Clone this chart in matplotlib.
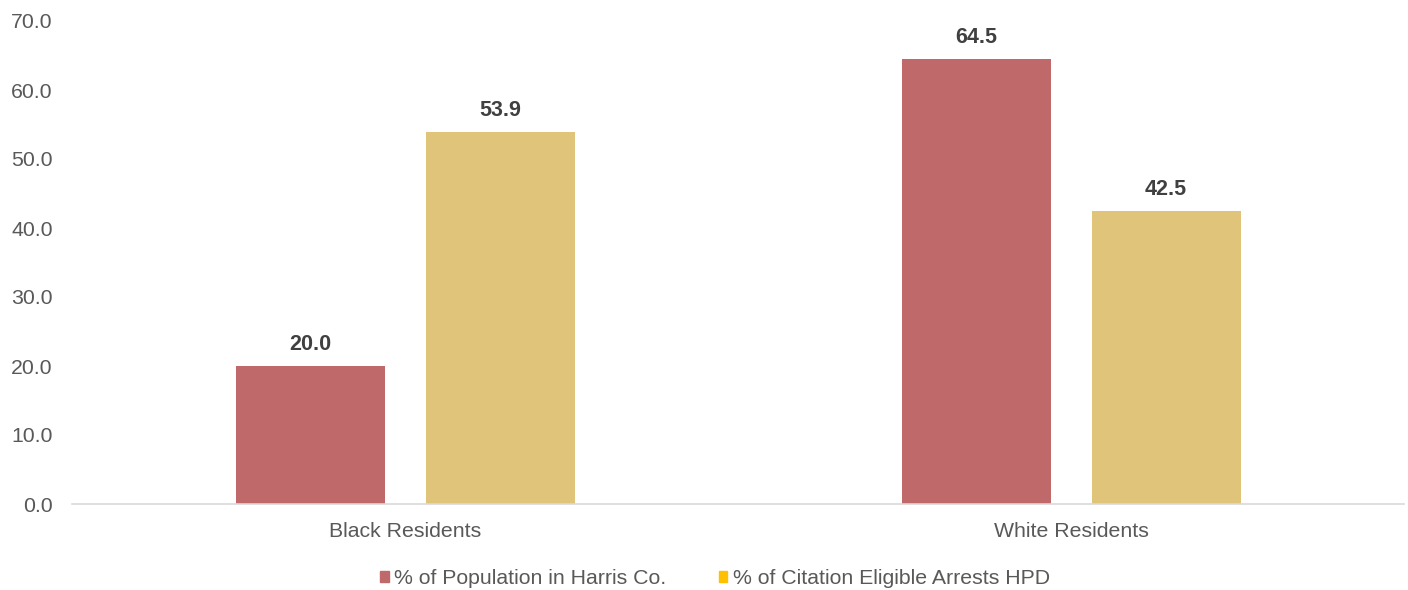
import numpy as np
import matplotlib.pyplot as plt
from matplotlib.patches import Patch

plt.rcParams['font.family'] = ['Liberation Sans', 'DejaVu Sans']

categories = ['Black Residents', 'White Residents']
population = [20.0, 64.5]
arrests = [53.9, 42.5]
series_names = ['% of Population in Harris Co.', '% of Citation Eligible Arrests HPD']
yticks = np.arange(0, 71, 10)

red = '#C0696A'
gold = '#DFC47A'
legend_gold = '#FFC000'
grey_text = '#595959'
fs = 15.3

fig = plt.figure(figsize=(14.08, 5.9), dpi=100)
ax = fig.add_axes([72/1408, 86/590, 1332/1408, 483/590])

x = np.arange(len(categories))
w = 149/666
off = 95/666
b1 = ax.bar(x - off, population, w, color=red)
b2 = ax.bar(x + off, arrests, w, color=gold)

for bars, vals in ((b1, population), (b2, arrests)):
    for b, v in zip(bars, vals):
        ax.annotate(f'{v:.1f}', (b.get_x() + b.get_width()/2, v), xytext=(0, 11.5),
                    textcoords='offset points', ha='center', va='baseline',
                    fontsize=15.5, fontweight='bold', color='#404040')

ax.set_xlim(-0.5, 1.5)
ax.set_ylim(0, 70)
ax.set_yticks(yticks)
ax.set_yticklabels([f'{t:.1f}' for t in yticks])
ax.set_xticks(x)
ax.set_xticklabels(categories)
ax.tick_params(axis='both', length=0, labelsize=fs, labelcolor=grey_text)
ax.tick_params(axis='y', pad=14)
ax.tick_params(axis='x', pad=13)
for s in ['top', 'right', 'left']:
    ax.spines[s].set_visible(False)
ax.spines['bottom'].set_color('#D9D9D9')
ax.spines['bottom'].set_linewidth(1.2)

handles = [Patch(color=red), Patch(color=legend_gold)]
fig.legend(handles, series_names, loc='center', bbox_to_anchor=(715/1408, 1 - 579/590),
           ncol=2, frameon=False, fontsize=fs, labelcolor=grey_text,
           handlelength=0.42, handleheight=0.42, handletextpad=0.25, columnspacing=2.45)

fig.savefig('out.png', dpi=100)
